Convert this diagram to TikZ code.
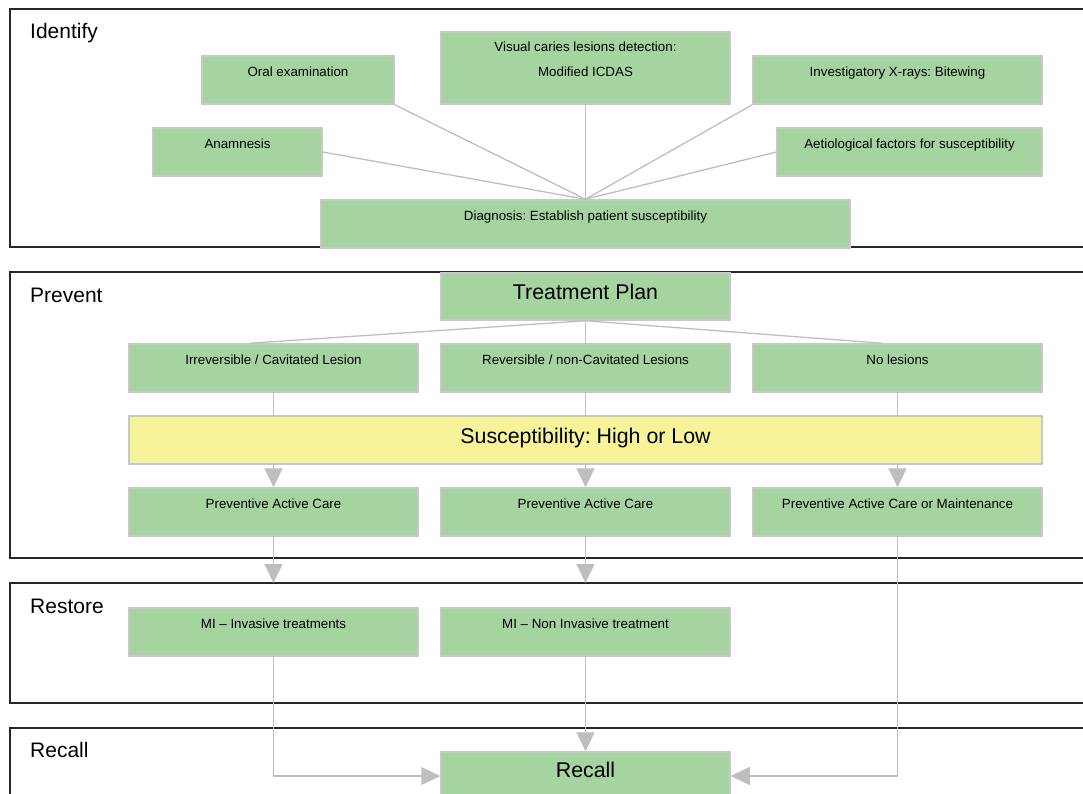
\documentclass[tikz,border=0pt]{standalone}
\usepackage{fontspec}
\setmainfont{Liberation Sans}
\frenchspacing
\usetikzlibrary{arrows.meta,positioning,calc}
\definecolor{boxgreen}{RGB}{166,212,160}
\definecolor{boxyellow}{RGB}{247,243,155}
\definecolor{boxline}{RGB}{200,200,200}
\definecolor{connline}{RGB}{190,190,190}
\tikzset{
    >={Triangle[length=19pt,width=18pt]},
    lanebox/.style={draw=black!85,line width=1.6pt},
    lanelabel/.style={anchor=base west,inner sep=0pt,font=\fontsize{21}{25}\selectfont},
    gbox/.style={rectangle,draw=boxline,fill=boxgreen,line width=1.5pt,inner xsep=0pt,inner ysep=0pt,
        align=center,font=\fontsize{13.33}{25}\selectfont,text height=20.8pt,text depth=27.2pt},
    bigbox/.style={gbox,font=\fontsize{21.33}{25}\selectfont},
    conn/.style={draw=connline,line width=1.3pt}
}

\begin{document}
\begin{tikzpicture}[x=1pt,y=-1pt]
    \useasboundingbox (0,0) rectangle (1083,794);
    \clip (0,0) rectangle (1083,794);

    % Lanes
    \draw[lanebox] (10,9) rectangle (1095,247);
    \draw[lanebox] (10,272) rectangle (1095,558);
    \draw[lanebox] (10,583) rectangle (1095,703);
    \draw[lanebox] (10,728) rectangle (1095,812);
    \node[lanelabel] (identify) at (30,39) {Identify};
    \node[lanelabel] (prevent) at (30,302) {Prevent};
    \node[lanelabel] (restore) at (30,613) {Restore};
    \node[lanelabel] (recalllane) at (30,757) {Recall};
    \coordinate (restoretop) at (10,583);

    % Identify
    \node[gbox,minimum width=192pt] (oral) at (298,80) {Oral examination};
    \node[gbox,minimum width=289pt,text height=44.8pt] (visual) at (585.5,68)
        {Visual caries lesions detection:\\Modified ICDAS};
    \node[gbox,minimum width=289pt] (xray) at (897.5,80) {Investigatory X-rays: Bitewing};
    \node[gbox,minimum width=169pt] (anamnesis) at (237.5,152) {Anamnesis};
    \node[gbox,minimum width=265pt] (aetio) at (909.5,152) {Aetiological factors for susceptibility};
    \node[gbox,minimum width=529pt] (diagnosis) at (585.5,224) {Diagnosis: Establish patient susceptibility};

    \draw[conn] (oral.south east) -- (diagnosis.north);
    \draw[conn] (visual.south) -- (diagnosis.north);
    \draw[conn] (xray.south west) -- (diagnosis.north);
    \draw[conn] (anamnesis.east) -- (diagnosis.north);
    \draw[conn] (aetio.west) -- (diagnosis.north);

    % Prevent
    \node[bigbox,minimum width=289pt,text height=26pt,text depth=21pt] (plan) at (585.5,296.5) {Treatment Plan};
    \node[gbox,minimum width=289pt] (irr) at (273.5,368) {Irreversible / Cavitated Lesion};
    \node[gbox,minimum width=289pt] (rev) at (585.5,368) {Reversible / non-Cavitated Lesions};
    \node[gbox,minimum width=289pt] (nol) at (897.5,368) {No lesions};
    \node[bigbox,fill=boxyellow,minimum width=913pt,text height=27pt,text depth=21pt] (suscept) at (585.5,440)
        {Susceptibility: High or Low};
    \node[gbox,minimum width=289pt] (pac1) at (273.5,512) {Preventive Active Care};
    \node[gbox,minimum width=289pt] (pac2) at (585.5,512) {Preventive Active Care};
    \node[gbox,minimum width=289pt] (pac3) at (897.5,512) {Preventive Active Care or Maintenance};

    \draw[conn] (plan.south) -- ([xshift=-24pt]irr.north);
    \draw[conn] (plan.south) -- (rev.north);
    \draw[conn] (plan.south) -- ([xshift=-15pt]nol.north);
    \foreach \n/\m in {irr/pac1,rev/pac2,nol/pac3} {
        \draw[conn] (\n.south) -- (\n.south |- suscept.north);
        \draw[conn,->,fill=connline] (\n.south |- suscept.south) -- (\m.north);
    }
    \foreach \m in {pac1,pac2}
        \draw[conn,->,fill=connline] (\m.south) -- (\m.south |- restoretop);

    % Restore
    \node[gbox,minimum width=289pt] (mi1) at (273.5,632) {MI – Invasive treatments};
    \node[gbox,minimum width=289pt] (mi2) at (585.5,632) {MI – Non Invasive treatment};

    % Recall
    \node[bigbox,minimum width=289pt,text height=25pt,text depth=23pt] (recall) at (585.5,776) {Recall};

    \draw[conn,->] (mi1.south) |- (recall.west);
    \draw[conn,->] (mi2.south) -- (recall.north);
    \draw[conn,->] (pac3.south) |- (recall.east);
\end{tikzpicture}
\end{document}
